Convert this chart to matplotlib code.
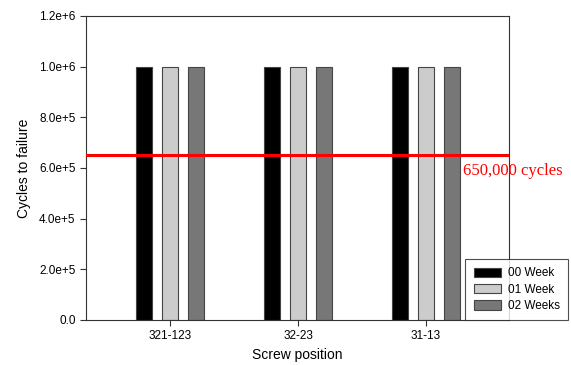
import matplotlib
matplotlib.use("Agg")
import matplotlib.pyplot as plt
import numpy as np

plt.rcParams['font.family'] = ['Liberation Sans', 'DejaVu Sans']

categories = ["321-123", "32-23", "31-13"]
series_names = ["00 Week", "01 Week", "02 Weeks"]
week00 = [1.0e6, 1.0e6, 1.0e6]
week01 = [1.0e6, 1.0e6, 1.0e6]
week02 = [1.0e6, 1.0e6, 1.0e6]
threshold = 650000
yticks = [0, 2e5, 4e5, 6e5, 8e5, 1e6, 1.2e6]
ytick_labels = ["0.0", "2.0e+5", "4.0e+5", "6.0e+5", "8.0e+5", "1.0e+6", "1.2e+6"]

colors = ["#000000", "#cccccc", "#777777"]

fig = plt.figure(figsize=(5.71, 3.65), dpi=100)
ax = fig.add_axes([86/571, 1 - 320/365, (509-86)/571, (320-16)/365])

x = np.arange(len(categories))
width = 0.125
offsets = [-0.2, 0.0, 0.2]
for vals, off, c, name in zip([week00, week01, week02], offsets, colors, series_names):
    ax.bar(x + off, vals, width, color=c, edgecolor="#444444", linewidth=0.8, label=name, zorder=2)

ax.axhline(threshold, color="#ff0000", linewidth=2.2, zorder=3)
ax.text(463/571, 1 - 171/365, "650,000 cycles", transform=fig.transFigure, color="#ff0000",
        fontsize=12, family=["Liberation Serif", "DejaVu Serif"], va="center", ha="left")

ax.set_xlim(-0.656, 2.648)
ax.set_ylim(0, 1.2e6)
ax.set_xticks(x)
ax.set_xticklabels(categories, fontsize=8.5)
ax.set_yticks(yticks)
ax.set_yticklabels(ytick_labels, fontsize=8.5)
ax.tick_params(direction="out", length=4, width=0.8, color="#333333")
for s in ax.spines.values():
    s.set_linewidth(0.8)
    s.set_color("#333333")
ax.set_xlabel("Screw position", fontsize=10)
ax.set_ylabel("Cycles to failure", fontsize=10, labelpad=6)

leg = fig.legend(loc="lower right", bbox_to_anchor=(568/571, 1 - 320/365), fontsize=8.5,
                 frameon=True, fancybox=False, handlelength=2.3, handleheight=0.9,
                 handletextpad=0.6, borderpad=0.7, labelspacing=0.35, borderaxespad=0)
leg.get_frame().set_edgecolor("#222222")
leg.get_frame().set_linewidth(0.8)
leg.set_zorder(5)

fig.savefig("out.png", dpi=100)
